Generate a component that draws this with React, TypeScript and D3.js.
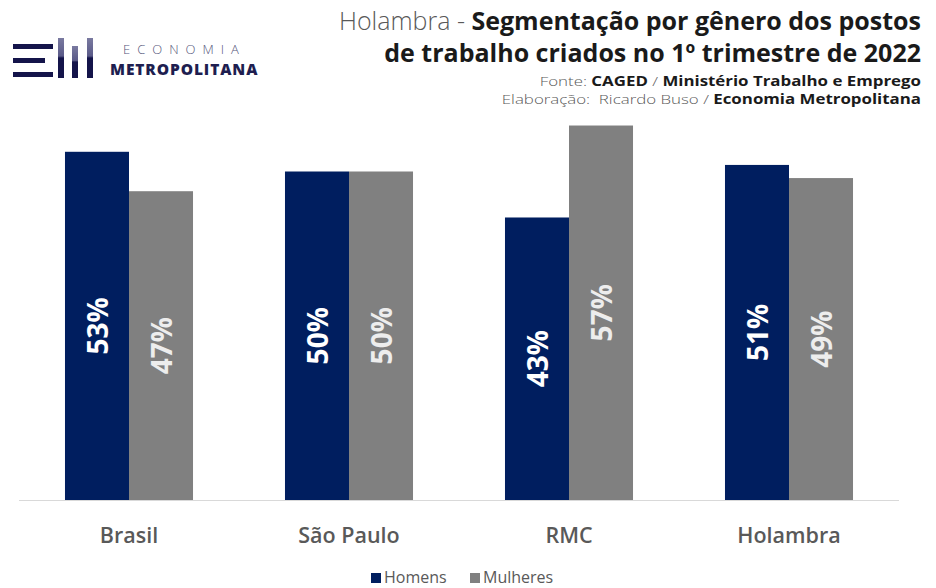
import React from "react";
import * as d3 from "d3";

const categories = ["Brasil", "São Paulo", "RMC", "Holambra"];
const seriesNames = ["Homens", "Mulheres"];
const homens = [53, 50, 43, 51];
const mulheres = [47, 50, 57, 49];
const colors = ["#001E5F", "#808080"];
const labelColors = ["#FFFFFF", "#EDEDED"];

const W = 936;
const H = 588;
const FONT = "'Open Sans', 'Noto Sans', sans-serif";

export default function App() {
  const x0 = d3.scaleBand<string>().domain(categories).range([19, 899]).paddingInner(0.418).paddingOuter(0.209);
  const x1 = d3.scaleBand<string>().domain(seriesNames).range([0, x0.bandwidth()]);
  const y = d3.scaleLinear().domain([0, 60]).range([500, 500 - 6.57 * 60]);
  const series = [homens, mulheres];

  return (
    <svg width={W} height={H} style={{ position: "absolute", left: 0, top: 0, background: "#fff" }}>
      <rect width={W} height={H} fill="#fff" />
      {/* Logo */}
      <defs>
        <linearGradient id="lg" x1="0" y1="0" x2="0" y2="1">
          <stop offset="0" stopColor="#7a7aa0" />
          <stop offset="0.45" stopColor="#5a5a88" />
          <stop offset="0.5" stopColor="#14144a" />
          <stop offset="1" stopColor="#14144a" />
        </linearGradient>
      </defs>
      <g>
        <rect x={13} y={44} width={40} height={5} fill="#14144a" />
        <rect x={13} y={58} width={32} height={5} fill="#14144a" />
        <rect x={13} y={72} width={40} height={5} fill="#14144a" />
        <rect x={58} y={38} width={6} height={40} fill="url(#lg)" />
        <rect x={72} y={46} width={6} height={32} fill="url(#lg)" />
        <rect x={87} y={38} width={6} height={40} fill="url(#lg)" />
        <text x={123} y={54} fontFamily={FONT} fontSize={13} fontWeight={300} fill="#55557a" letterSpacing={7}>ECONOMIA</text>
        <text x={110} y={75} fontFamily={FONT} fontSize={15.5} fontWeight={800} fill="#1e1e50" letterSpacing={0.9}>METROPOLITANA</text>
      </g>
      {/* Title */}
      <g fontFamily={FONT} textAnchor="end">
        <text x={921} y={30} fontSize={25}>
          <tspan fill="#595959" fontWeight={300}>Holambra - </tspan>
          <tspan fill="#1a1a1a" fontWeight={700}>Segmentação por gênero dos postos</tspan>
        </text>
        <text x={921} y={62} fontSize={25} fill="#1a1a1a" fontWeight={700}>de trabalho criados no 1º trimestre de 2022</text>
        <g transform="translate(921,0) scale(1.25,1)">
          <text x={0} y={86} fontSize={13.5}>
            <tspan fill="#595959" fontWeight={300}>Fonte: </tspan>
            <tspan fill="#1a1a1a" fontWeight={700}>CAGED</tspan>
            <tspan fill="#595959" fontWeight={300}> / </tspan>
            <tspan fill="#1a1a1a" fontWeight={700}>Ministério Trabalho e Emprego</tspan>
          </text>
          <text x={0} y={104} fontSize={13.5}>
            <tspan fill="#595959" fontWeight={300}>{"Elaboração:\u00A0 Ricardo Buso / "}</tspan>
            <tspan fill="#1a1a1a" fontWeight={700}>Economia Metropolitana</tspan>
          </text>
        </g>
      </g>
      {/* Axis line */}
      <line x1={19} x2={899} y1={500.5} y2={500.5} stroke="#D9D9D9" strokeWidth={1} />
      {/* Bars */}
      {categories.map((c, i) => (
        <g key={c} transform={`translate(${x0(c)},0)`}>
          {seriesNames.map((s, j) => {
            const v = series[j][i];
            const bx = x1(s)!;
            const bw = x1.bandwidth();
            const top = y(v);
            const cy = (top + y(0)) / 2;
            const cx = bx + bw / 2;
            return (
              <g key={s}>
                <rect x={bx} y={top} width={bw} height={y(0) - top} fill={colors[j]} />
                <text
                  transform={`translate(${cx},${cy}) rotate(-90)`}
                  textAnchor="middle"
                  dominantBaseline="central"
                  fontFamily={FONT}
                  fontWeight={700}
                  fontSize={28}
                  fill={labelColors[j]}
                >
                  {v}%
                </text>
              </g>
            );
          })}
          <text
            x={x0.bandwidth() / 2}
            y={543}
            textAnchor="middle"
            fontFamily={FONT}
            fontWeight={600}
            fontSize={21.5}
            fill="#595959"
          >
            {c}
          </text>
        </g>
      ))}
      {/* Legend */}
      <g fontFamily={FONT} fontSize={16} fill="#595959">
        <rect x={371} y={573} width={10} height={10} fill={colors[0]} />
        <text x={384} y={583}>{seriesNames[0]}</text>
        <rect x={470} y={573} width={10} height={10} fill={colors[1]} />
        <text x={483} y={583}>{seriesNames[1]}</text>
      </g>
    </svg>
  );
}
